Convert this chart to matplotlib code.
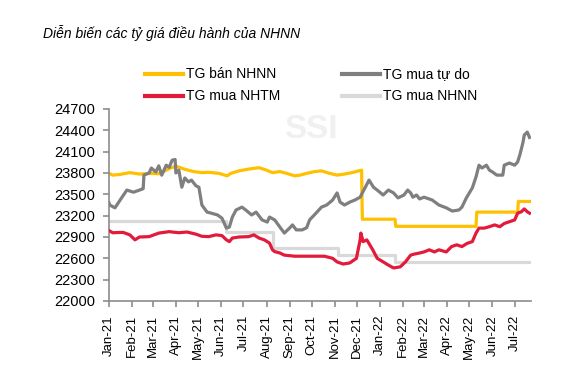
import pandas as pd
import matplotlib
matplotlib.use('Agg')
import matplotlib.pyplot as plt
import matplotlib.dates as mdates
from matplotlib.lines import Line2D

plt.rcParams['font.family'] = ['Liberation Sans', 'DejaVu Sans']

# TG mua tu do (free market)
free_dates = ['2021-01-01', '2021-01-02', '2021-01-09', '2021-01-16', '2021-01-25', '2021-02-03',
              '2021-02-15', '2021-02-16', '2021-02-17', '2021-02-24', '2021-02-27', '2021-03-05',
              '2021-03-09', '2021-03-13', '2021-03-19', '2021-03-23', '2021-03-27', '2021-03-31',
              '2021-04-01', '2021-04-05', '2021-04-09', '2021-04-13', '2021-04-18', '2021-04-22',
              '2021-04-28', '2021-05-02', '2021-05-06', '2021-05-13', '2021-05-17', '2021-05-27',
              '2021-06-02', '2021-06-08', '2021-06-12', '2021-06-16', '2021-06-21', '2021-06-29',
              '2021-07-04', '2021-07-12', '2021-07-18', '2021-07-26', '2021-08-02', '2021-08-05',
              '2021-08-12', '2021-08-19', '2021-08-25', '2021-09-01', '2021-09-05', '2021-09-10',
              '2021-09-18', '2021-09-24', '2021-09-28', '2021-10-07', '2021-10-14', '2021-10-21',
              '2021-10-29', '2021-11-04', '2021-11-08', '2021-11-14', '2021-11-21', '2021-11-28',
              '2021-12-05', '2021-12-12', '2021-12-17', '2021-12-23', '2021-12-28', '2022-01-05',
              '2022-01-12', '2022-01-19', '2022-01-25', '2022-02-02', '2022-02-07', '2022-02-11',
              '2022-02-14', '2022-02-19', '2022-02-23', '2022-03-01', '2022-03-12', '2022-03-21',
              '2022-03-31', '2022-04-08', '2022-04-17', '2022-04-21', '2022-04-27', '2022-05-01',
              '2022-05-05', '2022-05-10', '2022-05-14', '2022-05-18', '2022-05-24', '2022-05-28',
              '2022-06-01', '2022-06-07', '2022-06-15', '2022-06-17', '2022-06-24', '2022-07-01',
              '2022-07-05', '2022-07-08', '2022-07-12', '2022-07-14', '2022-07-18', '2022-07-21']
free_vals = [23380, 23350, 23310, 23420, 23560, 23530,
             23575, 23580, 23770, 23800, 23870, 23815,
             23900, 23770, 23910, 23880, 23980, 23990,
             23800, 23840, 23600, 23730, 23675, 23700,
             23620, 23600, 23350, 23250, 23240, 23210,
             23165, 23025, 23040, 23180, 23280, 23320,
             23280, 23210, 23250, 23140, 23110, 23180,
             23140, 23040, 22955, 23025, 23070, 23000,
             23000, 23030, 23140, 23240, 23320, 23350,
             23420, 23520, 23390, 23350, 23390, 23420,
             23460, 23600, 23700, 23600, 23560, 23490,
             23560, 23520, 23450, 23490, 23560, 23520,
             23460, 23490, 23435, 23460, 23420, 23350,
             23310, 23265, 23280, 23320, 23450, 23520,
             23590, 23745, 23910, 23870, 23910, 23840,
             23815, 23770, 23770, 23910, 23940, 23910,
             23955, 24055, 24220, 24335, 24375, 24300]

# TG mua NHTM (commercial banks)
bank_dates = ['2021-01-01', '2021-01-06', '2021-01-20', '2021-01-29', '2021-02-05', '2021-02-11',
              '2021-02-24', '2021-03-09', '2021-03-23', '2021-04-05', '2021-04-16', '2021-04-28',
              '2021-05-06', '2021-05-15', '2021-05-25', '2021-06-02', '2021-06-08', '2021-06-12',
              '2021-06-16', '2021-06-25', '2021-07-08', '2021-07-15', '2021-07-22', '2021-07-29',
              '2021-08-05', '2021-08-09', '2021-08-12', '2021-08-19', '2021-08-25', '2021-09-08',
              '2021-09-28', '2021-10-18', '2021-10-29', '2021-11-04', '2021-11-12', '2021-11-21',
              '2021-11-30', '2021-12-05', '2021-12-06', '2021-12-09', '2021-12-14', '2021-12-18',
              '2021-12-22', '2021-12-28', '2022-01-05', '2022-01-12', '2022-01-19', '2022-01-28',
              '2022-02-04', '2022-02-11', '2022-02-16', '2022-02-23', '2022-03-01', '2022-03-08',
              '2022-03-15', '2022-03-21', '2022-03-31', '2022-04-07', '2022-04-14', '2022-04-21',
              '2022-04-28', '2022-05-05', '2022-05-10', '2022-05-14', '2022-05-21', '2022-05-28',
              '2022-06-04', '2022-06-11', '2022-06-17', '2022-06-24', '2022-07-01', '2022-07-05',
              '2022-07-10', '2022-07-14', '2022-07-18', '2022-07-21']
bank_vals = [22990, 22960, 22965, 22930, 22860, 22900,
             22905, 22955, 22975, 22960, 22970, 22940,
             22910, 22905, 22930, 22920, 22860, 22835,
             22885, 22900, 22905, 22930, 22885, 22860,
             22815, 22720, 22695, 22675, 22645, 22630,
             22630, 22630, 22600, 22550, 22520, 22535,
             22600, 22860, 22955, 22835, 22860, 22790,
             22720, 22600, 22550, 22505, 22465, 22480,
             22550, 22645, 22660, 22675, 22690, 22720,
             22690, 22720, 22690, 22765, 22790, 22765,
             22810, 22835, 22955, 23025, 23025, 23045,
             23070, 23045, 23090, 23115, 23140, 23235,
             23255, 23295, 23255, 23235]

# TG ban NHNN (central bank selling rate)
sell_dates = ['2021-01-01', '2021-01-06', '2021-01-16', '2021-01-29', '2021-02-11', '2021-02-24',
              '2021-03-09', '2021-03-19', '2021-03-27', '2021-04-03', '2021-04-12', '2021-04-25',
              '2021-05-06', '2021-05-15', '2021-05-29', '2021-06-09', '2021-06-14', '2021-06-25',
              '2021-07-08', '2021-07-22', '2021-08-01', '2021-08-09', '2021-08-19', '2021-08-28',
              '2021-09-08', '2021-09-15', '2021-09-28', '2021-10-05', '2021-10-14', '2021-10-25',
              '2021-11-04', '2021-11-14', '2021-11-24', '2021-12-07', '2021-12-08', '2022-01-21',
              '2022-01-22', '2022-05-10', '2022-05-11', '2022-07-05', '2022-07-06', '2022-07-21']
sell_vals = [23795, 23770, 23780, 23805, 23785, 23795,
             23790, 23840, 23880, 23890, 23855, 23820,
             23805, 23810, 23795, 23760, 23795, 23830,
             23855, 23875, 23840, 23805, 23820, 23795,
             23760, 23770, 23805, 23820, 23830, 23795,
             23770, 23785, 23805, 23840, 23150, 23150,
             23050, 23050, 23250, 23250, 23400, 23400]

# TG mua NHNN (central bank buying rate, step changes)
buy_dates = ['2021-01-01', '2021-06-08', '2021-08-10', '2021-11-05', '2022-01-21', '2022-07-21']
buy_vals = [23125, 22975, 22750, 22650, 22550, 22550]

yticks = list(range(22000, 24701, 300))
month_ticks = pd.date_range('2021-01-01', '2022-07-01', freq='MS')

W, H = 574, 390
fig = plt.figure(figsize=(W / 100, H / 100), dpi=100)
ax = fig.add_axes([109 / W, 1 - 301 / H, (531 - 109) / W, (301 - 109) / H])

c_sell = '#FFC000'
c_free = '#7F7F7F'
c_bank = '#E31B3B'
c_buy = '#D9D9D9'

ax.plot(pd.to_datetime(buy_dates), buy_vals, color=c_buy, lw=2.3, drawstyle='steps-post', zorder=1)
ax.plot(pd.to_datetime(sell_dates), sell_vals, color=c_sell, lw=2.3, zorder=2)
ax.plot(pd.to_datetime(free_dates), free_vals, color=c_free, lw=2.3, zorder=3)
ax.plot(pd.to_datetime(bank_dates), bank_vals, color=c_bank, lw=2.3, zorder=4)

ax.set_ylim(22000, 24700)
ax.set_xlim(pd.Timestamp('2021-01-01'), pd.Timestamp('2022-07-23'))
ax.set_yticks(yticks)
ax.set_xticks(month_ticks)
ax.xaxis.set_major_formatter(mdates.DateFormatter('%b-%y'))
for s in ['top', 'right']:
    ax.spines[s].set_visible(False)
for s in ['left', 'bottom']:
    ax.spines[s].set_color('#8C8C8C')
    ax.spines[s].set_linewidth(1.2)
ax.tick_params(axis='y', direction='out', length=4, width=1.2, color='#8C8C8C', labelsize=10.5, pad=6)
ax.tick_params(axis='x', direction='out', length=4, width=1.2, color='#8C8C8C', labelsize=9.5,
               pad=6, labelrotation=90)
ax.patch.set_alpha(0)

# watermark
fig.text(311 / W, 1 - 130 / H, 'SSI', color='#F0F0F0', fontsize=24, fontweight='bold',
         ha='center', va='center', zorder=0)

fig.text(43 / W, 1 - 33 / H, 'Diễn biến các tỷ giá điều hành của NHNN', fontsize=10,
         style='italic', ha='left', va='center')

# legend drawn by hand (two columns)
legend = [(145, 74, c_sell, 'TG bán NHNN'), (342, 74, c_free, 'TG mua tự do'),
          (145, 96, c_bank, 'TG mua NHTM'), (342, 96, c_buy, 'TG mua NHNN')]
for x0, y0, col, lab in legend:
    fig.add_artist(Line2D([x0 / W, (x0 + 38) / W], [1 - y0 / H, 1 - y0 / H], color=col, lw=3,
                          transform=fig.transFigure))
    fig.text((x0 + 41) / W, 1 - y0 / H, lab, fontsize=10, ha='left', va='center')

fig.savefig('out.png', dpi=100)
